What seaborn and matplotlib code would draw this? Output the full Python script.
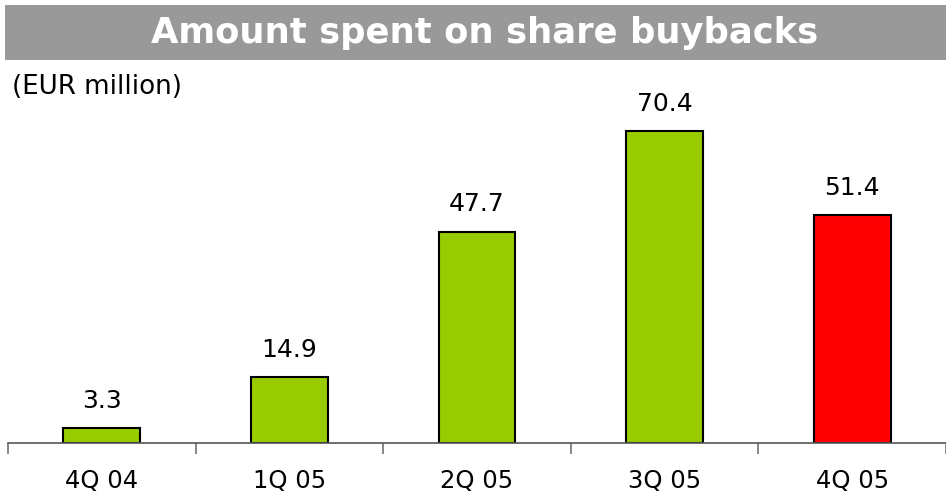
import numpy as np
import pandas as pd
import matplotlib
matplotlib.use("Agg")
import matplotlib.pyplot as plt
import seaborn as sns
from matplotlib.patches import Rectangle

# datos
quarters = ["4Q 04", "1Q 05", "2Q 05", "3Q 05", "4Q 05"]
amounts = [3.3, 14.9, 47.7, 70.4, 51.4]
bar_colors = ["#99CC00", "#99CC00", "#99CC00", "#99CC00", "#FF0000"]

df = pd.DataFrame({"quarter": quarters, "amount": amounts})

sns.set_style("white")
plt.rcParams["font.family"] = ["DejaVu Sans"]
plt.rcParams["text.color"] = "black"
plt.rcParams["xtick.color"] = "black"

fig = plt.figure(figsize=(9.46, 4.94), dpi=100)
ax = fig.add_axes([8 / 946, 51 / 494, 938 / 946, 343 / 494])

sns.barplot(data=df, x="quarter", y="amount", hue="quarter", palette=bar_colors,
            saturation=1, width=0.41, edgecolor="black", linewidth=1.5,
            legend=False, ax=ax)

ax.set_xlim(-0.5, len(quarters) - 0.5)
ax.set_ylim(0, 77.4)

# etiquetas de valores
for i, v in enumerate(amounts):
    ax.annotate(f"{v:.1f}", (i, v), xytext=(0, 11), textcoords="offset points",
                ha="center", va="bottom", fontsize=18, color="black")

for s in ["top", "right", "left"]:
    ax.spines[s].set_visible(False)
ax.spines["bottom"].set_color("#555555")
ax.spines["bottom"].set_linewidth(1.2)
ax.set_yticks([])
ax.set_xlabel("")
ax.set_ylabel("")

# ticks entre categorias
ax.set_xticks(np.arange(-0.5, len(quarters), 1.0), minor=False)
ax.set_xticklabels([])
ax.tick_params(axis="x", which="major", bottom=True, direction="out", length=8,
               width=1.1, color="#666666")
ax.set_xticks(np.arange(len(quarters)), minor=True)
ax.set_xticklabels(quarters, minor=True, fontsize=17.5, color="black")
ax.tick_params(axis="x", which="minor", bottom=True, length=0, pad=19)

# banner del titulo
fig.patches.append(Rectangle((5 / 946, 1 - 60 / 494), 941 / 946, 55 / 494,
                             transform=fig.transFigure, facecolor="#999999",
                             edgecolor="none", zorder=0))
fig.text(485 / 946, 1 - 33 / 494, "Amount spent on share buybacks", color="white",
         fontsize=25.5, fontweight="bold", ha="center", va="center")
fig.text(12 / 946, 1 - 87 / 494, "(EUR million)", fontsize=18.8, ha="left",
         va="center", color="black")

fig.savefig("out.png", dpi=100)
